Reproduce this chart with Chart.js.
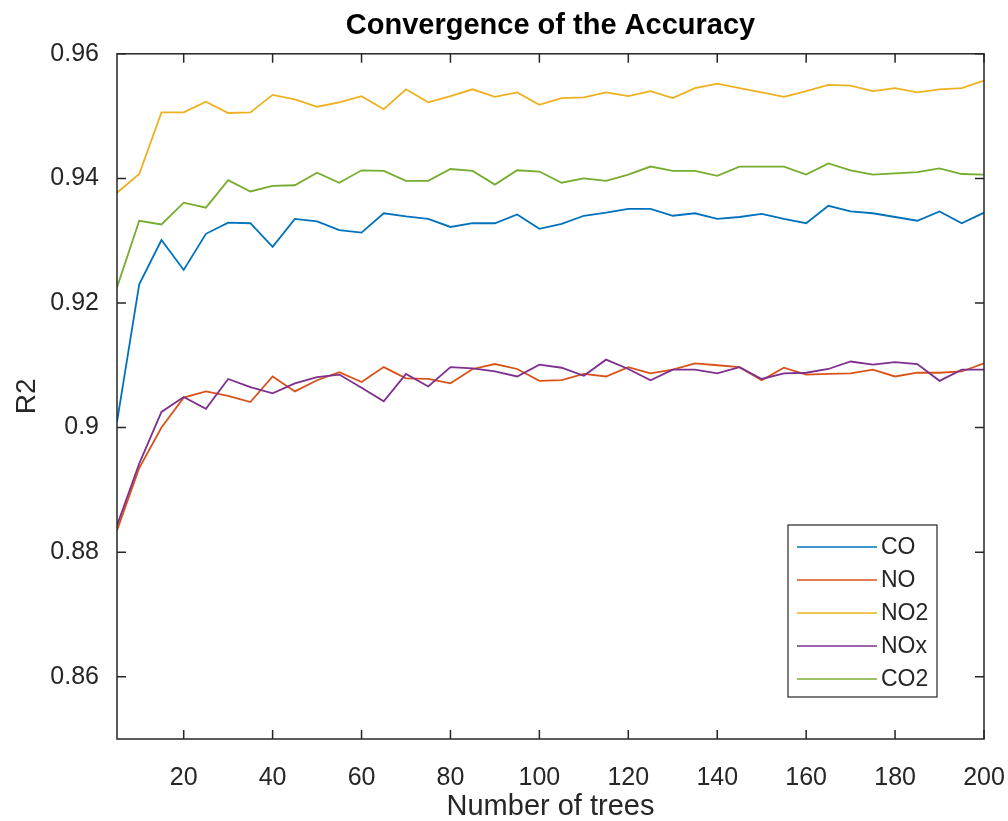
<!DOCTYPE html>
<html>
<head>
<meta charset="utf-8">
<script src="https://cdn.jsdelivr.net/npm/chart.js@4/dist/chart.umd.min.js"></script>
<style>
	body { margin: 0; background: #fff; }
	canvas { display: block; }
</style>
</head>
<body>
<canvas id="accChart" width="1008" height="821"></canvas>
<script>
// number of trees on x
const trees = [5, 10, 15, 20, 25, 30, 35, 40, 45, 50, 55, 60, 65, 70, 75, 80, 85, 90, 95, 100,
	105, 110, 115, 120, 125, 130, 135, 140, 145, 150, 155, 160, 165, 170, 175, 180, 185, 190, 195, 200];

const co = [0.9009, 0.9230, 0.9301, 0.9253, 0.9311, 0.9329, 0.9328, 0.9290, 0.9335, 0.9331,
	0.9317, 0.9313, 0.9344, 0.9339, 0.9335, 0.9322, 0.9328, 0.9328, 0.9342, 0.9319,
	0.9327, 0.9340, 0.9345, 0.9351, 0.9351, 0.9340, 0.9344, 0.9335, 0.9338, 0.9343,
	0.9335, 0.9328, 0.9356, 0.9347, 0.9344, 0.9338, 0.9332, 0.9347, 0.9328, 0.9345];
const no = [0.8835, 0.8935, 0.9000, 0.9048, 0.9058, 0.9051, 0.9041, 0.9082, 0.9058, 0.9076,
	0.9089, 0.9073, 0.9097, 0.9079, 0.9078, 0.9071, 0.9094, 0.9102, 0.9094, 0.9075,
	0.9076, 0.9086, 0.9082, 0.9097, 0.9087, 0.9093, 0.9103, 0.9100, 0.9097, 0.9076,
	0.9096, 0.9085, 0.9086, 0.9087, 0.9093, 0.9082, 0.9088, 0.9088, 0.9090, 0.9103];
const no2 = [0.9377, 0.9407, 0.9506, 0.9506, 0.9523, 0.9505, 0.9506, 0.9534, 0.9527, 0.9515,
	0.9522, 0.9532, 0.9511, 0.9543, 0.9522, 0.9532, 0.9543, 0.9531, 0.9538, 0.9518,
	0.9529, 0.9530, 0.9538, 0.9532, 0.9540, 0.9529, 0.9545, 0.9552, 0.9545, 0.9538,
	0.9531, 0.9540, 0.9550, 0.9549, 0.9540, 0.9545, 0.9538, 0.9543, 0.9545, 0.9557];
const nox = [0.8843, 0.8942, 0.9025, 0.9049, 0.9030, 0.9078, 0.9065, 0.9055, 0.9071, 0.9081,
	0.9085, 0.9064, 0.9042, 0.9086, 0.9066, 0.9097, 0.9095, 0.9090, 0.9082, 0.9101,
	0.9096, 0.9083, 0.9109, 0.9094, 0.9076, 0.9093, 0.9093, 0.9087, 0.9097, 0.9078,
	0.9087, 0.9088, 0.9094, 0.9106, 0.9101, 0.9105, 0.9102, 0.9075, 0.9093, 0.9093];
const co2 = [0.9225, 0.9332, 0.9326, 0.9361, 0.9353, 0.9397, 0.9379, 0.9388, 0.9389, 0.9409,
	0.9393, 0.9413, 0.9412, 0.9396, 0.9396, 0.9415, 0.9412, 0.9390, 0.9413, 0.9411,
	0.9393, 0.9400, 0.9396, 0.9406, 0.9419, 0.9412, 0.9412, 0.9404, 0.9419, 0.9419,
	0.9419, 0.9406, 0.9424, 0.9413, 0.9406, 0.9408, 0.9410, 0.9416, 0.9407, 0.9406];

const seriesNames = ['CO', 'NO', 'NO2', 'NOx', 'CO2'];
const seriesValues = [co, no, no2, nox, co2];
const seriesColors = ['#0072BD', '#D95319', '#EDB120', '#7E2F8E', '#77AC30'];

const xTickValues = [20, 40, 60, 80, 100, 120, 140, 160, 180, 200];
const yTickValues = [0.86, 0.88, 0.9, 0.92, 0.94, 0.96];

const FONT = '"Liberation Sans", Arial, Helvetica, sans-serif';
const AXIS_COLOR = '#262626';

// matlab style box with inward ticks on all four sides
const framePlugin = {
	id: 'frame',
	afterDraw(chart) {
		const { ctx, chartArea: a, scales } = chart;
		const len = 9;
		ctx.save();
		ctx.strokeStyle = AXIS_COLOR;
		ctx.lineWidth = 1.5;
		ctx.strokeRect(a.left, a.top, a.right - a.left, a.bottom - a.top);
		ctx.beginPath();
		xTickValues.forEach((v) => {
			const px = scales.x.getPixelForValue(v);
			ctx.moveTo(px, a.bottom);
			ctx.lineTo(px, a.bottom - len);
			ctx.moveTo(px, a.top);
			ctx.lineTo(px, a.top + len);
		});
		yTickValues.forEach((v) => {
			const py = scales.y.getPixelForValue(v);
			ctx.moveTo(a.left, py);
			ctx.lineTo(a.left + len, py);
			ctx.moveTo(a.right, py);
			ctx.lineTo(a.right - len, py);
		});
		ctx.stroke();
		ctx.restore();
	},
};

// legend box inside the axes, bottom right
const boxLegendPlugin = {
	id: 'boxLegend',
	afterDraw(chart) {
		const { ctx, chartArea: a } = chart;
		const w = 149;
		const h = 172;
		const left = a.right - 47 - w;
		const top = a.bottom - 42 - h;
		ctx.save();
		ctx.fillStyle = '#fff';
		ctx.fillRect(left, top, w, h);
		ctx.strokeStyle = AXIS_COLOR;
		ctx.lineWidth = 1.2;
		ctx.strokeRect(left, top, w, h);
		ctx.font = '23px ' + FONT;
		ctx.textBaseline = 'middle';
		ctx.textAlign = 'left';
		chart.data.datasets.forEach((ds, i) => {
			const y = top + 22 + i * 33;
			ctx.strokeStyle = ds.borderColor;
			ctx.lineWidth = 1.7;
			ctx.beginPath();
			ctx.moveTo(left + 9, y);
			ctx.lineTo(left + 89, y);
			ctx.stroke();
			ctx.fillStyle = AXIS_COLOR;
			ctx.fillText(ds.label, left + 93, y + 1);
		});
		ctx.restore();
	},
};

const datasets = seriesNames.map((name, i) => ({
	label: name,
	data: trees.map((t, j) => ({ x: t, y: seriesValues[i][j] })),
	borderColor: seriesColors[i],
	backgroundColor: seriesColors[i],
	borderWidth: 1.8,
	pointRadius: 0,
	tension: 0,
	fill: false,
	order: seriesNames.length - i,
}));

new Chart(document.getElementById('accChart'), {
	type: 'line',
	data: { datasets },
	options: {
		responsive: false,
		animation: false,
		layout: { padding: { left: 0, right: 24, top: 0, bottom: 0 } },
		plugins: {
			legend: { display: false },
			tooltip: { enabled: false },
			title: {
				display: true,
				fullSize: false,
				text: 'Convergence of the Accuracy',
				color: '#000',
				font: { family: FONT, size: 29, weight: 'bold', lineHeight: 1.2 },
				padding: { top: 9, bottom: 10 },
			},
		},
		scales: {
			x: {
				type: 'linear',
				min: 5,
				max: 200,
				grid: { display: false },
				border: { display: false },
				afterBuildTicks(scale) {
					scale.ticks = xTickValues.map((v) => ({ value: v }));
				},
				afterFit(scale) {
					scale.height = 82;
					scale.paddingLeft = 0;
					scale.paddingRight = 0;
				},
				ticks: {
					color: AXIS_COLOR,
					padding: 16,
					maxRotation: 0,
					autoSkip: false,
					font: { family: FONT, size: 25 },
					callback: (v) => String(v),
				},
				title: {
					display: true,
					text: 'Number of trees',
					color: AXIS_COLOR,
					font: { family: FONT, size: 29, lineHeight: 1 },
					padding: { top: 0, bottom: 0 },
				},
			},
			y: {
				type: 'linear',
				min: 0.85,
				max: 0.96,
				grid: { display: false },
				border: { display: false },
				afterBuildTicks(scale) {
					scale.ticks = yTickValues.map((v) => ({ value: v }));
				},
				afterFit(scale) {
					scale.width = 117;
					scale.paddingTop = 0;
					scale.paddingBottom = 0;
				},
				ticks: {
					color: AXIS_COLOR,
					padding: 10,
					autoSkip: false,
					font: { family: FONT, size: 25 },
					callback: (v) => String(parseFloat(v.toFixed(3))),
				},
				title: {
					display: true,
					text: 'R2',
					color: AXIS_COLOR,
					font: { family: FONT, size: 28, lineHeight: 1 },
					padding: { top: 13, bottom: 0 },
				},
			},
		},
	},
	plugins: [framePlugin, boxLegendPlugin],
});
</script>
</body>
</html>
